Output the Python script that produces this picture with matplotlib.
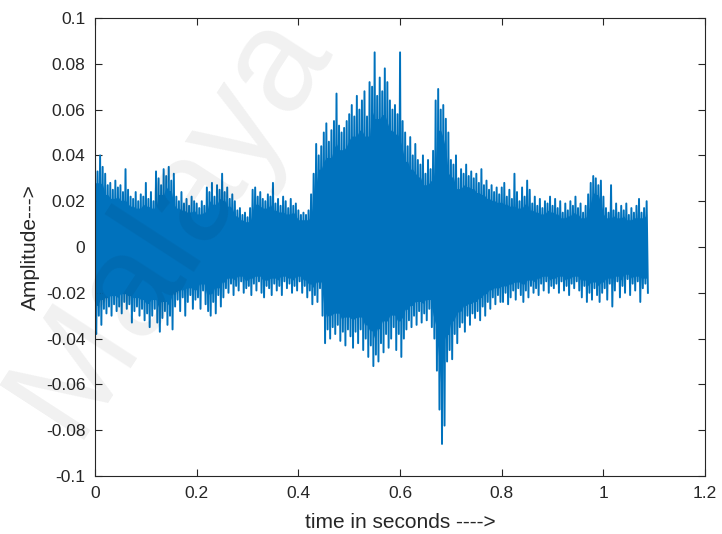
import numpy as np
import matplotlib
matplotlib.use("Agg")
import matplotlib.pyplot as plt
from matplotlib.ticker import FixedLocator, FormatStrFormatter

# Waveform envelope, amplitude x 1000,
# one positive peak and one negative peak every 5 ms (0.000 .. 1.085 s)
STEP = 0.005
UPPER_MILLI = [
    38, 33, 40, 35, 32, 27, 28, 25, 29, 26,
    27, 24, 34, 25, 22, 21, 24, 20, 23, 22,
    28, 21, 24, 20, 33, 30, 27, 34, 31, 35,
    29, 32, 22, 20, 24, 19, 21, 18, 22, 20,
    19, 17, 20, 18, 26, 24, 28, 22, 27, 25,
    32, 24, 26, 21, 23, 20, 16, 17, 14, 15,
    13, 17, 25, 26, 22, 24, 21, 20, 23, 22,
    28, 19, 21, 18, 22, 20, 17, 21, 18, 19,
    16, 14, 15, 14, 16, 23, 32, 45, 40, 44,
    50, 54, 46, 51, 55, 67, 53, 50, 52, 55,
    58, 62, 57, 66, 60, 64, 68, 57, 72, 70,
    85, 66, 74, 68, 78, 72, 64, 60, 62, 58,
    85, 55, 50, 44, 48, 40, 45, 38, 36, 40,
    32, 38, 34, 42, 64, 69, 60, 62, 56, 50,
    38, 36, 40, 30, 34, 32, 36, 31, 33, 30,
    32, 28, 34, 27, 29, 25, 27, 24, 26, 23,
    26, 28, 22, 25, 21, 32, 24, 20, 26, 22,
    29, 25, 19, 22, 18, 21, 17, 20, 19, 22,
    18, 21, 17, 20, 15, 19, 16, 20, 18, 22,
    17, 19, 15, 18, 23, 28, 31, 30, 27, 29,
    22, 17, 15, 27, 16, 19, 15, 18, 16, 19,
    14, 17, 15, 18, 21, 15, 17, 20,
]
LOWER_MILLI = [
    -38, -30, -34, -27, -29, -26, -30, -25, -28, -26,
    -29, -24, -27, -25, -33, -28, -26, -30, -27, -32,
    -29, -35, -30, -27, -33, -37, -31, -28, -34, -30,
    -36, -26, -23, -28, -22, -30, -24, -21, -27, -23,
    -22, -27, -19, -25, -28, -30, -24, -29, -21, -26,
    -22, -18, -20, -16, -21, -17, -19, -15, -20, -18,
    -17, -21, -16, -19, -15, -20, -22, -17, -18, -21,
    -16, -19, -17, -21, -15, -18, -16, -20, -17, -19,
    -15, -20, -17, -22, -19, -25, -21, -24, -18, -30,
    -42, -36, -40, -35, -38, -34, -41, -37, -43, -36,
    -39, -44, -37, -42, -36, -45, -40, -48, -43, -52,
    -47, -50, -42, -46, -38, -44, -40, -35, -45, -38,
    -48, -40, -36, -32, -35, -30, -34, -28, -33, -29,
    -32, -27, -35, -40, -54, -71, -86, -78, -50, -45,
    -49, -38, -42, -35, -33, -37, -30, -34, -29, -31,
    -28, -32, -26, -30, -24, -27, -22, -25, -21, -24,
    -24, -20, -25, -22, -19, -23, -18, -21, -24, -19,
    -22, -17, -20, -18, -21, -16, -19, -15, -20, -17,
    -18, -16, -20, -15, -19, -17, -21, -16, -18, -15,
    -19, -22, -17, -24, -20, -23, -18, -21, -24, -20,
    -18, -23, -16, -26, -19, -15, -22, -17, -20, -14,
    -21, -16, -19, -15, -24, -18, -16, -20,
]
X_TICKS = [0, 0.2, 0.4, 0.6, 0.8, 1.0, 1.2]
Y_TICKS = [-0.1, -0.08, -0.06, -0.04, -0.02, 0, 0.02, 0.04, 0.06, 0.08, 0.1]

plt.rcParams["font.family"] = ["Liberation Sans", "DejaVu Sans"]
plt.rcParams["axes.unicode_minus"] = False

upper = np.array(UPPER_MILLI) / 1000.0
lower = np.array(LOWER_MILLI) / 1000.0
t = np.arange(len(upper)) * STEP

# interleave positive and negative peaks into one trace
tt = np.empty(2 * len(t))
yy = np.empty(2 * len(t))
tt[0::2] = t
tt[1::2] = t + STEP / 2
yy[0::2] = upper
yy[1::2] = lower

# solid core of the trace: smallest neighbouring peak
pad_u = np.pad(upper, 1, mode="edge")
pad_l = np.pad(lower, 1, mode="edge")
core_u = np.minimum(np.minimum(pad_u[:-2], pad_u[1:-1]), pad_u[2:]) * 0.85
core_l = np.maximum(np.maximum(pad_l[:-2], pad_l[1:-1]), pad_l[2:]) * 0.85

fig = plt.figure(figsize=(7.22, 5.34), dpi=100)
ax = fig.add_axes([0.1316, 0.1086, 0.845, 0.8577])

blue = "#0072BD"
ax.fill_between(t, core_l, core_u, color=blue, linewidth=0)
ax.plot(tt, yy, color=blue, linewidth=1.4)

ax.set_xlim(0, 1.2)
ax.set_ylim(-0.1, 0.1)
ax.xaxis.set_major_locator(FixedLocator(X_TICKS))
ax.yaxis.set_major_locator(FixedLocator(Y_TICKS))
ax.xaxis.set_major_formatter(FormatStrFormatter("%g"))
ax.yaxis.set_major_formatter(FormatStrFormatter("%g"))

for s in ax.spines.values():
    s.set_color("#262626")
    s.set_linewidth(0.8)
ax.tick_params(direction="in", top=True, right=True, length=5, width=0.8,
               colors="#262626", labelsize=12.5, pad=7)
ax.set_xlabel("time in seconds ---->", fontsize=15, color="#262626", labelpad=9)
ax.set_ylabel("Amplitude--->", fontsize=15, color="#262626", labelpad=4)

# faint watermark across the left part of the figure
fig.text(0.235, 0.585, "Malaya", fontsize=105, color="black", alpha=0.06,
         rotation=57, ha="center", va="center")

fig.savefig("out.png", dpi=100)
